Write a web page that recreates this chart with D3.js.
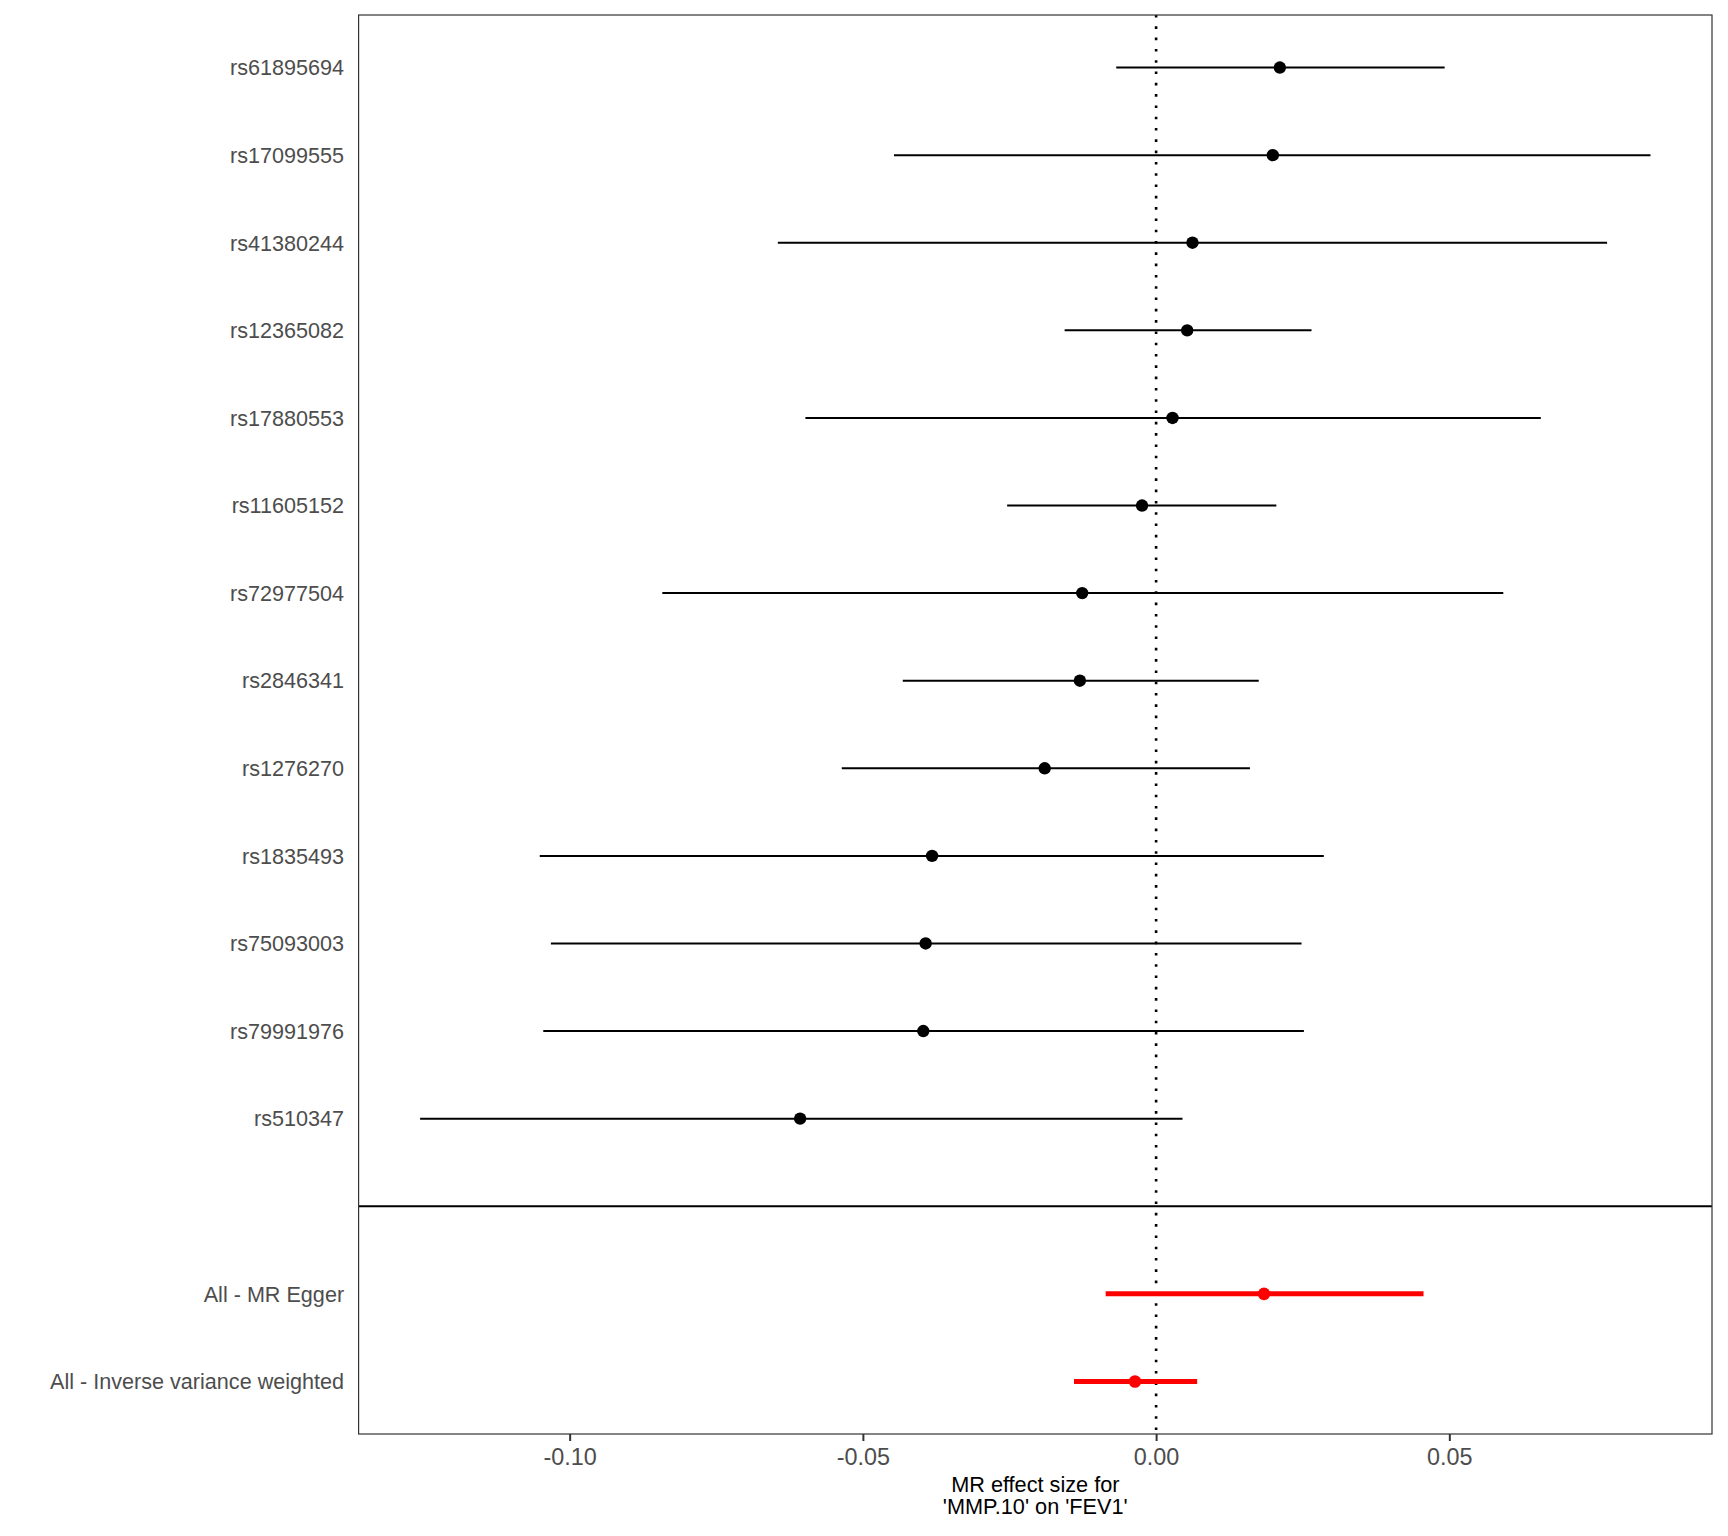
<!DOCTYPE html>
<html>
<head>
<meta charset="utf-8">
<script src="https://cdn.jsdelivr.net/npm/d3@7"></script>
<style>
  html, body { margin: 0; padding: 0; background: #ffffff; }
  svg { display: block; }
  text { font-family: "Liberation Sans", Arial, Helvetica, sans-serif; }
</style>
</head>
<body>
<svg id="chart" width="1728" height="1536"></svg>
<script>
// ---- data (top to bottom) ----
const labels = ["rs61895694","rs17099555","rs41380244","rs12365082","rs17880553","rs11605152",
  "rs72977504","rs2846341","rs1276270","rs1835493","rs75093003","rs79991976","rs510347",
  "", "All - MR Egger", "All - Inverse variance weighted"];
const estimates = [0.0211, 0.0199, 0.0062, 0.0053, 0.0028, -0.0024, -0.0126, -0.0130, -0.0190,
  -0.0382, -0.0393, -0.0397, -0.0607, null, 0.0184, -0.0036];
const lower = [-0.0068, -0.0447, -0.0645, -0.0156, -0.0598, -0.0254, -0.0842, -0.0432, -0.0536,
  -0.1051, -0.1032, -0.1045, -0.1255, null, -0.0086, -0.0140];
const upper = [0.0492, 0.0843, 0.0769, 0.0265, 0.0656, 0.0205, 0.0592, 0.0175, 0.0160,
  0.0286, 0.0248, 0.0252, 0.0045, null, 0.0456, 0.0070];
const isSummary = [false,false,false,false,false,false,false,false,false,false,false,false,false,
  false,true,true];
const xTicks = [-0.10, -0.05, 0.00, 0.05];
const xTickLabels = ["-0.10", "-0.05", "0.00", "0.05"];
const xTitle = ["MR effect size for", "'MMP.10' on 'FEV1'"];

// ---- layout ----
const panel = { left: 358.6, right: 1712, top: 15, bottom: 1434 };
const svg = d3.select("#chart");

const rows = labels.map((l, i) => ({ label: l, est: estimates[i], lo: lower[i], hi: upper[i], summary: isSummary[i], idx: i }));
const data = rows.filter(d => d.est !== null);

const minV = d3.min(data, d => d.lo), maxV = d3.max(data, d => d.hi);
const pad = (maxV - minV) * 0.05;
const x = d3.scaleLinear().domain([minV - pad, maxV + pad]).range([panel.left, panel.right]);

// discrete y with 0.6 expansion each side
const n = labels.length;
const step = (panel.bottom - panel.top) / (n - 1 + 1.2);
const y = i => panel.top + (0.6 + i) * step;

// panel background
svg.append("rect").attr("x", panel.left).attr("y", panel.top)
  .attr("width", panel.right - panel.left).attr("height", panel.bottom - panel.top)
  .attr("fill", "#ffffff");

// vertical dotted zero line
svg.append("line")
  .attr("x1", x(0)).attr("x2", x(0)).attr("y1", panel.top).attr("y2", panel.bottom)
  .attr("stroke", "#000").attr("stroke-width", 2.6).attr("stroke-dasharray", "2.6,8.7");

// error bars
svg.append("g").selectAll("line").data(data).join("line")
  .attr("x1", d => x(d.lo)).attr("x2", d => x(d.hi))
  .attr("y1", d => y(d.idx)).attr("y2", d => y(d.idx))
  .attr("stroke", d => d.summary ? "#ff0000" : "#000000")
  .attr("stroke-width", d => d.summary ? 5 : 2);

// points
svg.append("g").selectAll("circle").data(data).join("circle")
  .attr("cx", d => x(d.est)).attr("cy", d => y(d.idx))
  .attr("r", d => d.summary ? 6.3 : 6.2)
  .attr("fill", d => d.summary ? "#ff0000" : "#000000");

// separator line at blank row
const blankIdx = labels.indexOf("");
svg.append("line")
  .attr("x1", panel.left).attr("x2", panel.right)
  .attr("y1", y(blankIdx)).attr("y2", y(blankIdx))
  .attr("stroke", "#000").attr("stroke-width", 2.2);

// panel border
svg.append("rect").attr("x", panel.left).attr("y", panel.top)
  .attr("width", panel.right - panel.left).attr("height", panel.bottom - panel.top)
  .attr("fill", "none").attr("stroke", "#333333").attr("stroke-width", 1.2);

// y labels
svg.append("g").selectAll("text").data(rows.filter(d => d.label !== "")).join("text")
  .attr("x", panel.left - 14.5).attr("y", d => y(d.idx)).attr("dy", "0.36em")
  .attr("text-anchor", "end").attr("font-size", 21.6).attr("fill", "#4d4d4d")
  .text(d => d.label);

// x axis
const xAxis = d3.axisBottom(x).tickValues(xTicks)
  .tickFormat((d, i) => xTickLabels[i]).tickSize(7).tickPadding(5);
const gx = svg.append("g").attr("transform", `translate(0,${panel.bottom})`).call(xAxis);
gx.select(".domain").remove();
gx.selectAll(".tick line").attr("stroke", "#333333").attr("stroke-width", 2);
gx.selectAll(".tick text").attr("font-size", 23.4).attr("fill", "#4d4d4d")
  .attr("font-family", "'Liberation Sans', Arial, sans-serif").attr("dy", 0).attr("y", 31);

// x title
const cx = (panel.left + panel.right) / 2;
svg.append("text").attr("x", cx).attr("y", 1491.5).attr("text-anchor", "middle")
  .attr("font-size", 21.7).attr("fill", "#000").text(xTitle[0]);
svg.append("text").attr("x", cx).attr("y", 1513.5).attr("text-anchor", "middle")
  .attr("font-size", 21.7).attr("fill", "#000").text(xTitle[1]);
</script>
</body>
</html>
